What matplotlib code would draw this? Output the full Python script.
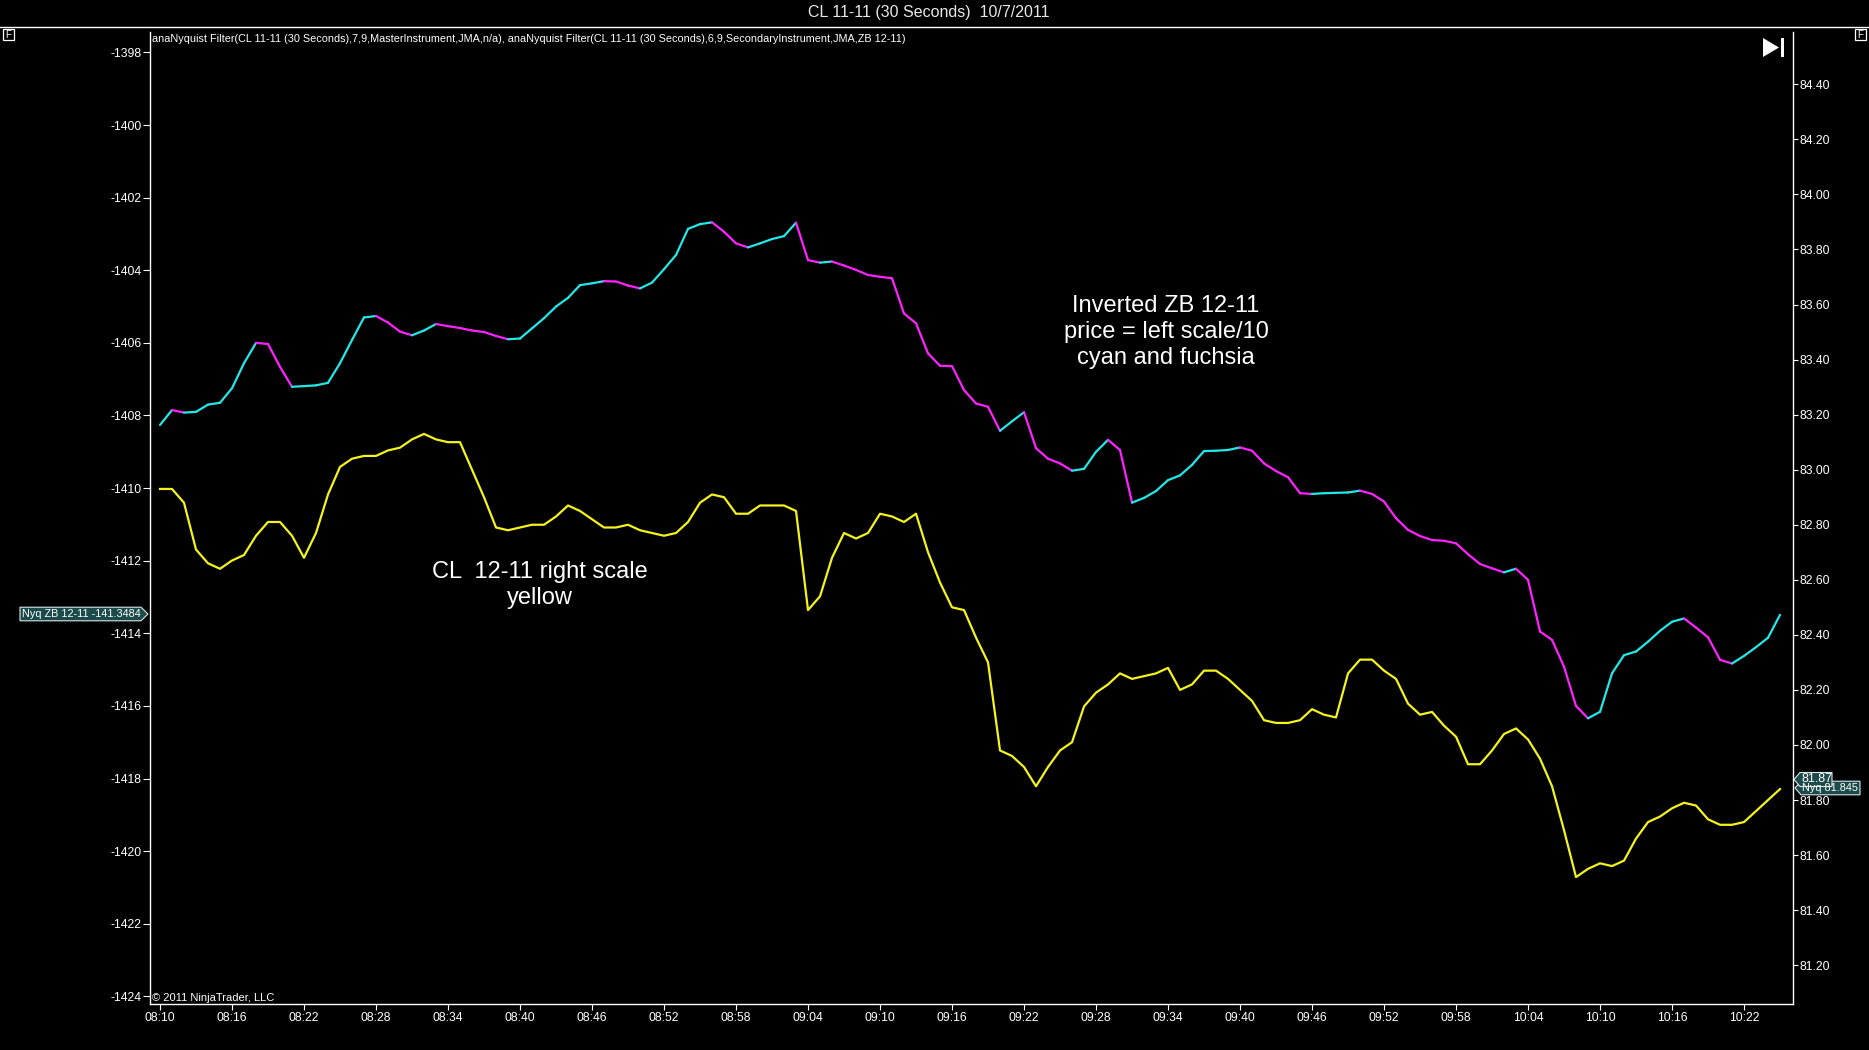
import numpy as np
import matplotlib
matplotlib.use("Agg")
import matplotlib.pyplot as plt
from matplotlib.collections import LineCollection
from matplotlib.patches import Polygon, Rectangle
from matplotlib.lines import Line2D
from matplotlib import font_manager

# Dati: un campione al minuto a partire dalle 08:10
# ZB 12-11 invertito (scala sinistra)
zb = [-1408.26, -1407.85, -1407.92, -1407.90, -1407.70, -1407.65, -1407.25, -1406.56, -1406.00, -1406.03,
      -1406.66, -1407.21, -1407.19, -1407.17, -1407.10, -1406.56, -1405.92, -1405.30, -1405.26, -1405.44,
      -1405.69, -1405.79, -1405.66, -1405.48, -1405.54, -1405.59, -1405.66, -1405.70, -1405.81, -1405.90,
      -1405.88, -1405.60, -1405.32, -1405.00, -1404.76, -1404.41, -1404.36, -1404.30, -1404.31, -1404.42,
      -1404.50, -1404.34, -1403.97, -1403.58, -1402.86, -1402.73, -1402.68, -1402.94, -1403.26, -1403.37,
      -1403.26, -1403.14, -1403.06, -1402.69, -1403.72, -1403.79, -1403.76, -1403.87, -1403.99, -1404.13,
      -1404.18, -1404.22, -1405.19, -1405.46, -1406.29, -1406.63, -1406.64, -1407.30, -1407.67, -1407.76,
      -1408.42, -1408.16, -1407.91, -1408.90, -1409.19, -1409.32, -1409.52, -1409.47, -1409.00, -1408.67,
      -1408.95, -1410.40, -1410.27, -1410.08, -1409.78, -1409.65, -1409.36, -1408.98, -1408.97, -1408.95,
      -1408.88, -1408.97, -1409.32, -1409.53, -1409.70, -1410.14, -1410.16, -1410.14, -1410.13, -1410.12,
      -1410.07, -1410.16, -1410.37, -1410.83, -1411.15, -1411.32, -1411.43, -1411.45, -1411.52, -1411.82,
      -1412.09, -1412.21, -1412.32, -1412.22, -1412.53, -1413.95, -1414.18, -1414.92, -1416.00, -1416.34,
      -1416.16, -1415.10, -1414.60, -1414.50, -1414.23, -1413.93, -1413.68, -1413.59, -1413.84, -1414.11,
      -1414.73, -1414.83, -1414.62, -1414.38, -1414.12, -1413.49]

# CL 12-11 (scala destra)
cl = [82.93, 82.93, 82.88, 82.71, 82.66, 82.64, 82.67, 82.69, 82.76, 82.81,
      82.81, 82.76, 82.68, 82.77, 82.91, 83.01, 83.04, 83.05, 83.05, 83.07,
      83.08, 83.11, 83.13, 83.11, 83.10, 83.10, 83.00, 82.90, 82.79, 82.78,
      82.79, 82.80, 82.80, 82.83, 82.87, 82.85, 82.82, 82.79, 82.79, 82.80,
      82.78, 82.77, 82.76, 82.77, 82.81, 82.88, 82.91, 82.90, 82.84, 82.84,
      82.87, 82.87, 82.87, 82.85, 82.49, 82.54, 82.68, 82.77, 82.75, 82.77,
      82.84, 82.83, 82.81, 82.84, 82.70, 82.59, 82.50, 82.49, 82.39, 82.30,
      81.98, 81.96, 81.92, 81.85, 81.92, 81.98, 82.01, 82.14, 82.19, 82.22,
      82.26, 82.24, 82.25, 82.26, 82.28, 82.20, 82.22, 82.27, 82.27, 82.24,
      82.20, 82.16, 82.09, 82.08, 82.08, 82.09, 82.13, 82.11, 82.10, 82.26,
      82.31, 82.31, 82.27, 82.24, 82.15, 82.11, 82.12, 82.07, 82.03, 81.93,
      81.93, 81.98, 82.04, 82.06, 82.02, 81.95, 81.85, 81.69, 81.52, 81.55,
      81.57, 81.56, 81.58, 81.66, 81.72, 81.74, 81.77, 81.79, 81.78, 81.73,
      81.71, 81.71, 81.72, 81.76, 81.80, 81.84]

etichette_x = ['08:10', '08:16', '08:22', '08:28', '08:34', '08:40', '08:46', '08:52', '08:58',
               '09:04', '09:10', '09:16', '09:22', '09:28', '09:34', '09:40', '09:46', '09:52',
               '09:58', '10:04', '10:10', '10:16', '10:22']
tick_sx = [-1424, -1422, -1420, -1418, -1416, -1414, -1412, -1410, -1408, -1406, -1404, -1402, -1400, -1398]
tick_dx = [81.20, 81.40, 81.60, 81.80, 82.00, 82.20, 82.40, 82.60, 82.80, 83.00, 83.20, 83.40,
           83.60, 83.80, 84.00, 84.20, 84.40]

nomi = {f.name for f in font_manager.fontManager.ttflist}
stretto = 'Liberation Sans Narrow' if 'Liberation Sans Narrow' in nomi else 'Liberation Sans'
plt.rcParams['font.family'] = ['Liberation Sans', 'DejaVu Sans']

W, H = 1869, 1050
fig = plt.figure(figsize=(W / 100, H / 100), dpi=100, facecolor='black')
ax = fig.add_axes([150 / W, 1 - 1004 / H, (1793 - 150) / W, (1004 - 32) / H])
ax.set_facecolor('black')
ax2 = ax.twinx()
ax2.patch.set_visible(False)

def fx(x):
    return x / W

def fy(y):
    return 1 - y / H

# linea ZB: ciano quando sale, fucsia quando scende
t = np.arange(len(zb))
punti = np.column_stack([t, zb])
segmenti = np.stack([punti[:-1], punti[1:]], axis=1)
colori = ['#22e8e8' if d >= 0 else '#ff22ff' for d in np.diff(zb)]
lc = LineCollection(segmenti, colors=colori, linewidths=1.6, capstyle='round', joinstyle='round')
ax.add_collection(lc)

ax2.plot(np.arange(len(cl)), cl, color='#f4f41c', lw=1.6)

ax.set_xlim(-0.833, 136.08)
ax.set_ylim(-1424.208, -1397.438)
ax2.set_ylim(81.059, 84.590)

ax.set_xticks(np.arange(len(etichette_x)) * 6)
ax.set_xticklabels(etichette_x)
ax.set_yticks(tick_sx)
ax.set_yticklabels([str(v) for v in tick_sx])
ax2.set_yticks(tick_dx)
ax2.set_yticklabels(['%.2f' % v for v in tick_dx])

for a in (ax, ax2):
    for s in a.spines.values():
        s.set_visible(False)
ax.spines['left'].set_visible(True)
ax.spines['bottom'].set_visible(True)
ax2.spines['right'].set_visible(True)
for s in (ax.spines['left'], ax.spines['bottom'], ax2.spines['right']):
    s.set_color('white')
    s.set_linewidth(1.0)

ax.tick_params(axis='x', colors='white', length=4.5, width=0.8, pad=1.5, labelsize=8.7)
ax.tick_params(axis='y', colors='white', length=5, width=0.8, pad=1, labelsize=8.7)
ax2.tick_params(axis='y', colors='white', length=3.6, width=0.8, pad=1, labelsize=8.7)
for lab in ax.get_xticklabels() + ax.get_yticklabels() + ax2.get_yticklabels():
    lab.set_fontfamily(stretto)

# titolo e linea sotto
fig.text(fx(929), fy(13), 'CL 11-11 (30 Seconds)  10/7/2011', color='#e8e8e8',
         fontsize=11.5, ha='center', va='center', family=stretto)
fig.add_artist(Line2D([0, 1], [fy(27), fy(27)], color='white', lw=1.0, transform=fig.transFigure))

fig.text(fx(152), fy(39),
         'anaNyquist Filter(CL 11-11 (30 Seconds),7,9,MasterInstrument,JMA,n/a), '
         'anaNyquist Filter(CL 11-11 (30 Seconds),6,9,SecondaryInstrument,JMA,ZB 12-11)',
         color='white', fontsize=7.8, ha='left', va='center', family=stretto)
fig.text(fx(152), fy(998), '\u00a9 2011 NinjaTrader, LLC', color='white', fontsize=8,
         ha='left', va='center', family=stretto)

# annotazioni
fig.text(fx(1166), fy(332), 'Inverted ZB 12-11\nprice = left scale/10\ncyan and fuchsia',
         color='white', fontsize=17, ha='center', va='center', linespacing=1.26)
fig.text(fx(540), fy(585), 'CL  12-11 right scale\nyellow',
         color='white', fontsize=17, ha='center', va='center', linespacing=1.26)

# riquadri "F"
for x0 in (3, 1855):
    fig.add_artist(Rectangle((fx(x0), fy(40)), 11 / W, 11 / H, transform=fig.transFigure,
                             facecolor='black', edgecolor='white', lw=0.9))
    fig.text(fx(x0 + 5.5), fy(34.5), 'F', color='white', fontsize=7, ha='center', va='center')

# icona play/fine
fig.add_artist(Polygon([(fx(1763), fy(38)), (fx(1779), fy(47.5)), (fx(1763), fy(57))],
                       closed=True, transform=fig.transFigure, facecolor='white', edgecolor='none'))
fig.add_artist(Rectangle((fx(1781), fy(57)), 3 / W, 19 / H, transform=fig.transFigure,
                         facecolor='white', edgecolor='none'))

# etichette prezzo
def cartellino(testo, x_punta, y, x_fine, verso, size=7.8, h=6.8):
    if verso == 'dx':
        pts = [(x_fine, y - h), (x_punta - 7, y - h), (x_punta, y), (x_punta - 7, y + h), (x_fine, y + h)]
        xt = x_fine + 2
    else:
        pts = [(x_punta, y), (x_punta + 6, y - h), (x_fine, y - h), (x_fine, y + h), (x_punta + 6, y + h)]
        xt = x_punta + 7
    fig.add_artist(Polygon([(fx(a), fy(b)) for a, b in pts], closed=True, transform=fig.transFigure,
                           facecolor='#1d4b4b', edgecolor='#d8e8e8', lw=0.8))
    fig.text(fx(xt), fy(y), testo, color='white', fontsize=size, ha='left', va='center', family=stretto)

cartellino('Nyq ZB 12-11 -141.3484', 148, 614, 20, 'dx')
cartellino('Nyq 81.845', 1795, 788, 1860, 'sx')
cartellino('81.87', 1794, 779.5, 1832, 'sx', size=9, h=7)

fig.savefig('out.png', dpi=100, facecolor='black')
